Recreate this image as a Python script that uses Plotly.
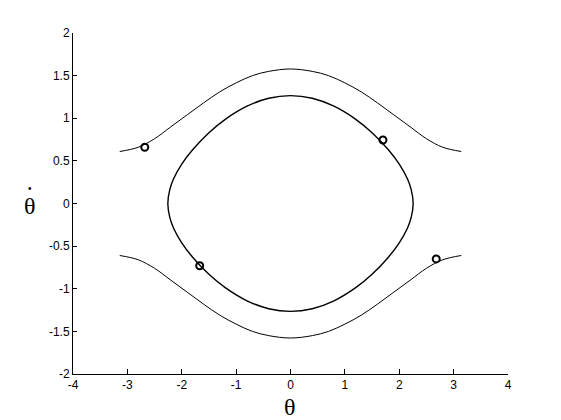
import plotly.graph_objects as go

# Outer (rotating) trajectories
theta_outer = [-3.14, -2.8, -2.5, -2.2, -1.9, -1.6, -1.3, -1.0, -0.7, -0.4, 0.0,
               0.4, 0.7, 1.0, 1.3, 1.6, 1.9, 2.2, 2.5, 2.8, 3.14]
thetadot_outer_top = [0.61, 0.66, 0.76, 0.90, 1.04, 1.18, 1.31, 1.415, 1.50, 1.55, 1.578,
                      1.55, 1.50, 1.415, 1.31, 1.18, 1.04, 0.90, 0.76, 0.66, 0.61]
thetadot_outer_bottom = [-0.61, -0.66, -0.76, -0.90, -1.04, -1.18, -1.31, -1.415, -1.50, -1.55, -1.578,
                         -1.55, -1.50, -1.415, -1.31, -1.18, -1.04, -0.90, -0.76, -0.66, -0.61]

# Inner closed (oscillating) trajectory
theta_inner = [-2.256, -2.22, -2.15, -2.0, -1.8, -1.5, -1.2, -0.8, -0.4, 0.0, 0.4, 0.8, 1.2, 1.5, 1.8, 2.0, 2.15, 2.22,
               2.256, 2.22, 2.15, 2.0, 1.8, 1.5, 1.2, 0.8, 0.4, 0.0, -0.4, -0.8, -1.2, -1.5, -1.8, -2.0, -2.15, -2.22, -2.256]
thetadot_inner = [0.0, 0.163, 0.29, 0.461, 0.63, 0.83, 0.987, 1.141, 1.234, 1.265, 1.234, 1.141, 0.987, 0.83, 0.63, 0.461, 0.29, 0.163,
                  0.0, -0.163, -0.29, -0.461, -0.63, -0.83, -0.987, -1.141, -1.234, -1.265, -1.234, -1.141, -0.987, -0.83, -0.63, -0.461, -0.29, -0.163, 0.0]

# Marked points
theta_marks = [-2.68, 1.70, -1.67, 2.68]
thetadot_marks = [0.66, 0.745, -0.73, -0.65]

x_ticks = [-4, -3, -2, -1, 0, 1, 2, 3, 4]
x_ticklabels = ["-4", "-3", "-2", "-1", "0", "1", "2", "3", "4"]
y_ticks = [-2, -1.5, -1, -0.5, 0, 0.5, 1, 1.5, 2]
y_ticklabels = ["-2", "-1.5", "-1", "-0.5", "0", "0.5", "1", "1.5", "2"]

fig = go.Figure()
fig.add_trace(go.Scatter(x=theta_outer, y=thetadot_outer_top, mode="lines",
                         line=dict(color="black", width=1, shape="spline"), hoverinfo="skip"))
fig.add_trace(go.Scatter(x=theta_outer, y=thetadot_outer_bottom, mode="lines",
                         line=dict(color="black", width=1, shape="spline"), hoverinfo="skip"))
fig.add_trace(go.Scatter(x=theta_inner, y=thetadot_inner, mode="lines",
                         line=dict(color="black", width=1.4, shape="spline"), hoverinfo="skip"))
fig.add_trace(go.Scatter(x=theta_marks, y=thetadot_marks, mode="markers",
                         marker=dict(symbol="circle-open", size=7, color="black", line=dict(width=2, color="black"))))

axis_common = dict(showgrid=False, zeroline=False, showline=True, linecolor="black", linewidth=1,
                   ticks="inside", tickcolor="black", tickfont=dict(family="Liberation Sans, Arial", size=12, color="black"),
                   mirror=False)
fig.update_layout(
    width=561, height=420,
    # page body has an 8px margin; margins compensate so the plot area sits where the reference has it
    margin=dict(l=65, r=61, t=25, b=54),
    paper_bgcolor="white", plot_bgcolor="white",
    showlegend=False,
    xaxis=dict(range=[-4, 4], tickvals=x_ticks, ticktext=x_ticklabels, ticklen=5, **axis_common),
    yaxis=dict(range=[-2, 2], tickvals=y_ticks, ticktext=y_ticklabels, ticklen=4, **axis_common),
    annotations=[
        dict(text="θ", x=0.498, y=-0.098, xref="paper", yref="paper", showarrow=False,
             font=dict(family="Liberation Serif, Times New Roman", size=24, color="black"),
             xanchor="center", yanchor="middle"),
        dict(text="θ", x=-0.10, y=0.493, xref="paper", yref="paper", showarrow=False,
             font=dict(family="Liberation Serif, Times New Roman", size=24, color="black"),
             xanchor="center", yanchor="middle"),
        dict(text="•", x=-0.10, y=0.543, xref="paper", yref="paper", showarrow=False,
             font=dict(family="Liberation Sans, Arial", size=10, color="black"),
             xanchor="center", yanchor="middle"),
    ],
)

fig.write_html("out.html")
